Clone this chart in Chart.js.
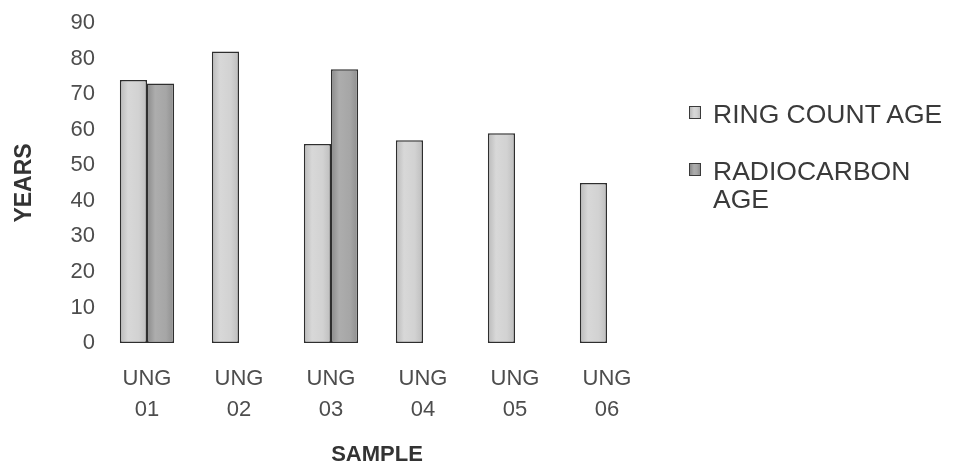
<!DOCTYPE html>
<html>
<head>
<meta charset="utf-8">
<script src="https://cdn.jsdelivr.net/npm/chart.js@4/dist/chart.umd.min.js"></script>
<style>
  html, body { margin: 0; padding: 0; background: #ffffff; }
  #wrap { position: relative; width: 953px; height: 466px; }
  #legend {
    position: absolute; left: 689px; top: 100px;
    font-family: "Liberation Sans", Arial, sans-serif; font-size: 26.5px;
    color: #3a3a3a; line-height: 28px;
  }
  .item { position: relative; padding-left: 24px; width: 240px; margin-bottom: 29px; }
  .swatch {
    position: absolute; left: 0; top: 6px; width: 10px; height: 11px;
    border: 1.5px solid #3a3a3a;
  }
</style>
</head>
<body>
<div id="wrap">
  <canvas id="chart" width="953" height="466"></canvas>
  <div id="legend"></div>
</div>
<script>
// Samples and ages (years)
const categories = [['UNG', '01'], ['UNG', '02'], ['UNG', '03'], ['UNG', '04'], ['UNG', '05'], ['UNG', '06']];
const ringCountAge = [74, 82, 56, 57, 59, 45];
const radiocarbonAge = [73, null, 77, null, null, null];
const seriesNames = ['RING COUNT AGE', 'RADIOCARBON AGE'];
const yTicks = [0, 10, 20, 30, 40, 50, 60, 70, 80, 90];

const CAT_PCT = 0.59;

// Shaded fills: light grey for ring counts, mid grey for radiocarbon
const shades = [
  ['#b9b9b9', '#d8d8d8', '#d2d2d2', '#bdbdbd'],
  ['#8a8a8a', '#adadad', '#a6a6a6', '#8e8e8e']
];

function barFill(context) {
  const ds = context.datasetIndex;
  const stops = shades[ds];
  if (context.type !== 'data') return stops[1];
  const chart = context.chart;
  const xs = chart.scales.x;
  if (!xs || !xs.width) return stops[1];
  const slot = xs.width / categories.length * CAT_PCT / 2;
  const center = xs.getPixelForValue(context.dataIndex);
  const left = ds === 0 ? center - slot : center;
  const g = chart.ctx.createLinearGradient(left, 0, left + slot, 0);
  g.addColorStop(0, stops[0]);
  g.addColorStop(0.3, stops[1]);
  g.addColorStop(0.7, stops[2]);
  g.addColorStop(1, stops[3]);
  return g;
}

const barStyle = {
  categoryPercentage: CAT_PCT,
  barPercentage: 1.0,
  backgroundColor: barFill,
  borderColor: '#2e2e2e',
  borderWidth: 1.5,
  borderSkipped: false
};

const tickFont = { family: '"Liberation Sans", Arial, sans-serif', size: 22 };

const chart = new Chart(document.getElementById('chart'), {
  type: 'bar',
  data: {
    labels: categories,
    datasets: [
      Object.assign({ label: seriesNames[0], data: ringCountAge }, barStyle),
      Object.assign({ label: seriesNames[1], data: radiocarbonAge }, barStyle)
    ]
  },
  options: {
    responsive: false,
    animation: false,
    layout: { padding: { left: 13, right: 300, top: 23, bottom: 0 } },
    plugins: {
      colors: { enabled: false },
      legend: { display: false },
      tooltip: { enabled: false }
    },
    scales: {
      x: {
        grid: { display: false, drawTicks: false },
        border: { display: false },
        ticks: {
          color: '#4d4d4d',
          font: Object.assign({}, tickFont, { lineHeight: 1.41 }),
          padding: 20,
          maxRotation: 0,
          autoSkip: false
        },
        title: {
          display: true,
          text: 'SAMPLE',
          color: '#333333',
          font: { family: '"Liberation Sans", Arial, sans-serif', size: 22, weight: 'bold', lineHeight: 1 },
          padding: 0
        },
        afterFit: (s) => { s.height = 123; }
      },
      y: {
        min: 0,
        max: 90,
        afterBuildTicks: (s) => { s.ticks = yTicks.map(v => ({ value: v })); },
        grid: { display: false, drawTicks: false },
        border: { display: false },
        ticks: {
          color: '#4d4d4d',
          font: tickFont,
          padding: 6
        },
        title: {
          display: true,
          text: 'YEARS',
          color: '#333333',
          font: { family: '"Liberation Sans", Arial, sans-serif', size: 23, weight: 'bold', lineHeight: 1 },
          padding: 0
        },
        afterFit: (s) => { s.width = 88; }
      }
    }
  }
});

// Legend built from the datasets
const legend = document.getElementById('legend');
chart.data.datasets.forEach((ds, i) => {
  const item = document.createElement('div');
  item.className = 'item';
  const sw = document.createElement('span');
  sw.className = 'swatch';
  const s = shades[i];
  sw.style.background = 'linear-gradient(90deg,' + s[0] + ',' + s[1] + ' 40%,' + s[2] + ' 70%,' + s[3] + ')';
  item.appendChild(sw);
  item.appendChild(document.createTextNode(ds.label));
  legend.appendChild(item);
});
</script>
</body>
</html>
